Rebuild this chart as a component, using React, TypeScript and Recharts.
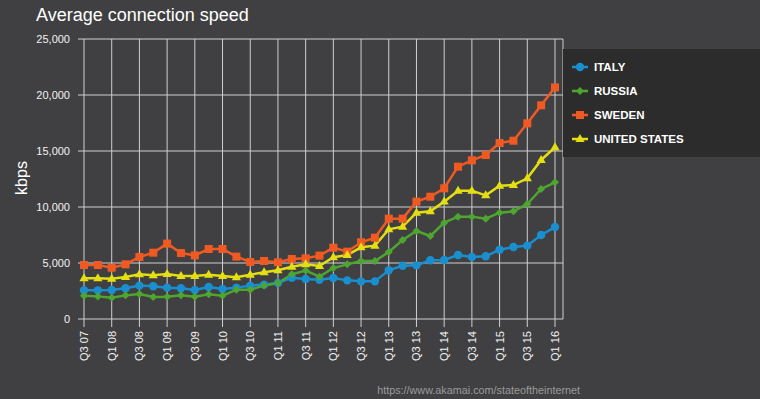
import { LineChart, Line, XAxis, YAxis, CartesianGrid, Label } from 'recharts';

// quarters from Q3 07 to Q1 16
const quarters = [
  'Q3 07', 'Q4 07',
  'Q1 08', 'Q2 08', 'Q3 08', 'Q4 08',
  'Q1 09', 'Q2 09', 'Q3 09', 'Q4 09',
  'Q1 10', 'Q2 10', 'Q3 10', 'Q4 10',
  'Q1 11', 'Q2 11', 'Q3 11', 'Q4 11',
  'Q1 12', 'Q2 12', 'Q3 12', 'Q4 12',
  'Q1 13', 'Q2 13', 'Q3 13', 'Q4 13',
  'Q1 14', 'Q2 14', 'Q3 14', 'Q4 14',
  'Q1 15', 'Q2 15', 'Q3 15', 'Q4 15',
  'Q1 16',
];

const tickLabels = [
  'Q3 07', 'Q1 08', 'Q3 08', 'Q1 09', 'Q3 09', 'Q1 10', 'Q3 10', 'Q1 11', 'Q3 11',
  'Q1 12', 'Q3 12', 'Q1 13', 'Q3 13', 'Q1 14', 'Q3 14', 'Q1 15', 'Q3 15', 'Q1 16',
];

const yTicks = [0, 5000, 10000, 15000, 20000, 25000];

// kbps
const italy = [
  2560, 2560, 2590, 2740, 2980, 2920, 2800, 2740, 2590, 2860, 2680, 2800,
  2980, 3070, 3210, 3690, 3570, 3510, 3660, 3450, 3360, 3360, 4350, 4760,
  4790, 5240, 5270, 5710, 5540, 5600, 6190, 6430, 6550, 7500, 8210,
];
const russia = [
  2080, 2020, 1900, 2110, 2230, 1960, 1990, 2110, 1990, 2200, 2080, 2620,
  2620, 2980, 3210, 3990, 4320, 3780, 4550, 4880, 5180, 5180, 5980, 7050,
  7860, 7410, 8600, 9140, 9140, 8960, 9490, 9610, 10270, 11610, 12200,
];
const sweden = [
  4820, 4820, 4580, 4880, 5540, 5920, 6730, 5890, 5680, 6250, 6250, 5570,
  5090, 5180, 5060, 5360, 5420, 5660, 6370, 6010, 6850, 7260, 8960, 8960,
  10480, 10920, 11670, 13600, 14170, 14640, 15710, 15920, 17470, 19080, 20680,
];
const unitedStates = [
  3630, 3630, 3600, 3750, 3990, 3900, 4020, 3840, 3840, 3960, 3840, 3720,
  3960, 4170, 4350, 4670, 4880, 4730, 5510, 5710, 6400, 6550, 8010, 8240,
  9490, 9610, 10480, 11460, 11460, 11040, 11900, 11960, 12560, 14200, 15330,
];

const data = quarters.map((q, i) => ({
  q,
  italy: italy[i],
  russia: russia[i],
  sweden: sweden[i],
  us: unitedStates[i],
}));

type Shape = 'circle' | 'diamond' | 'square' | 'triangle';

const series: { key: string; name: string; color: string; shape: Shape }[] = [
  { key: 'italy', name: 'ITALY', color: '#1a8fcf', shape: 'circle' },
  { key: 'russia', name: 'RUSSIA', color: '#4ea52f', shape: 'diamond' },
  { key: 'sweden', name: 'SWEDEN', color: '#f05a22', shape: 'square' },
  { key: 'us', name: 'UNITED STATES', color: '#e3df12', shape: 'triangle' },
];

const FONT = '"Liberation Sans", Arial, Helvetica, sans-serif';

function marker(shape: Shape, cx: number, cy: number, color: string, key?: string | number) {
  if (shape === 'circle') return <circle key={key} cx={cx} cy={cy} r={4.2} fill={color} />;
  if (shape === 'square') return <rect key={key} x={cx - 4} y={cy - 4} width={8} height={8} fill={color} />;
  if (shape === 'diamond')
    return <polygon key={key} points={`${cx},${cy - 4} ${cx + 4},${cy} ${cx},${cy + 4} ${cx - 4},${cy}`} fill={color} />;
  return <polygon key={key} points={`${cx},${cy - 5} ${cx + 4.6},${cy + 3} ${cx - 4.6},${cy + 3}`} fill={color} />;
}

const XTick = (props: any) => {
  const { x, y, payload } = props;
  return (
    <text
      x={x}
      y={y}
      transform={`rotate(-90 ${x} ${y})`}
      textAnchor="end"
      dominantBaseline="central"
      fill="#f2f2f2"
      fontSize={11}
      fontFamily={FONT}
    >
      {payload.value}
    </text>
  );
};

export default function App() {
  return (
    <div
      style={{
        position: 'fixed',
        left: 0,
        top: 0,
        width: 760,
        height: 399,
        background: '#404042',
        fontFamily: FONT,
        overflow: 'hidden',
      }}
    >
      <div style={{ position: 'absolute', left: 36, top: 5, fontSize: 18, color: '#ffffff' }}>
        Average connection speed
      </div>

      <LineChart width={760} height={399} data={data} margin={{ top: 39, right: 197, bottom: 0, left: 0 }}>
        <CartesianGrid stroke="#cfcfcf" strokeWidth={1} />
        <XAxis
          dataKey="q"
          ticks={tickLabels}
          interval={0}
          height={80}
          padding={{ left: 0, right: 8 }}
          axisLine={false}
          tickLine={{ stroke: '#cfcfcf' }}
          tickSize={8}
          tickMargin={4}
          tick={<XTick />}
        />
        <YAxis
          width={84}
          domain={[0, 25000]}
          ticks={yTicks}
          axisLine={false}
          tickLine={{ stroke: '#cfcfcf' }}
          tickSize={6}
          tickMargin={8}
          tick={{ fill: '#f2f2f2', fontSize: 11, fontFamily: FONT }}
          tickFormatter={(v: number) => v.toLocaleString('en-US')}
        >
          <Label
            content={({ viewBox }: any) => {
              const cy = viewBox.y + viewBox.height / 2 - 1;
              return (
                <text
                  x={21}
                  y={cy}
                  transform={`rotate(-90 21 ${cy})`}
                  textAnchor="middle"
                  dominantBaseline="central"
                  fill="#ffffff"
                  fontSize={16}
                  fontFamily={FONT}
                >
                  kbps
                </text>
              );
            }}
          />
        </YAxis>
        {series.map((s) => (
          <Line
            key={s.key}
            dataKey={s.key}
            name={s.name}
            stroke={s.color}
            strokeWidth={2.5}
            isAnimationActive={false}
            dot={(p: any) => marker(s.shape, p.cx, p.cy, s.color, p.key ?? p.index)}
            activeDot={false}
          />
        ))}
      </LineChart>

      <div
        style={{
          position: 'absolute',
          left: 563,
          top: 49,
          width: 197,
          height: 108,
          background: '#2c2c2d',
        }}
      >
        {series.map((s, i) => (
          <div
            key={s.key}
            style={{
              position: 'absolute',
              left: 8,
              top: 8 + i * 24,
              height: 20,
              display: 'flex',
              alignItems: 'center',
            }}
          >
            <svg width={18} height={12} style={{ marginRight: 5 }}>
              <line x1={1} y1={6} x2={17} y2={6} stroke={s.color} strokeWidth={2.5} />
              {marker(s.shape, 9, 6, s.color)}
            </svg>
            <span style={{ color: '#ffffff', fontSize: 11.5, fontWeight: 'bold' }}>{s.name}</span>
          </div>
        ))}
      </div>

      <div
        style={{
          position: 'absolute',
          right: 180,
          top: 384,
          fontSize: 10.8,
          color: '#9a9a9a',
        }}
      >
        https://www.akamai.com/stateoftheinternet
      </div>
    </div>
  );
}
